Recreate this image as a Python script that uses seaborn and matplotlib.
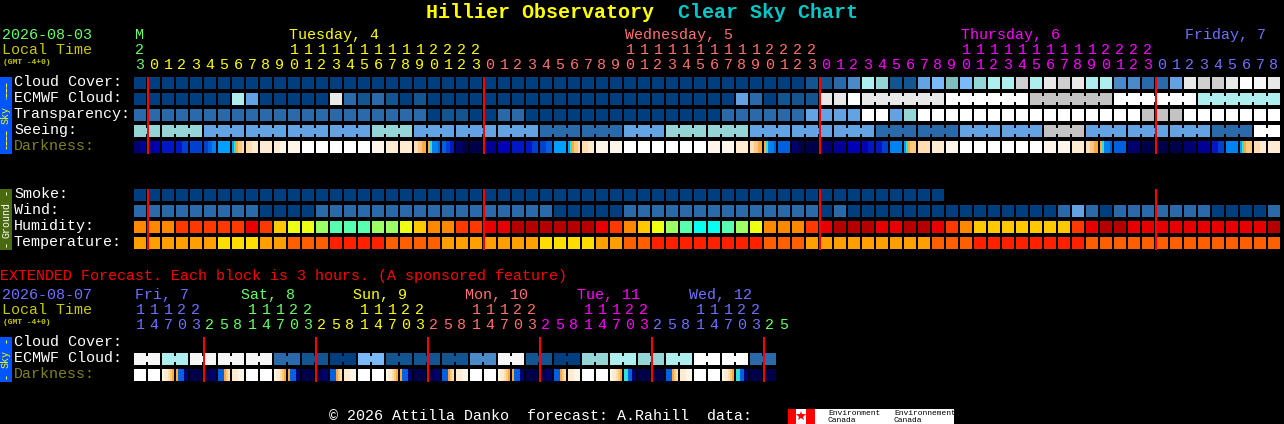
import numpy as np
import seaborn as sns
import matplotlib.pyplot as plt
from matplotlib.colors import ListedColormap
from matplotlib.patches import Rectangle

WIDTH, HEIGHT = 1284, 424
MONO = 'Liberation Mono'

SKY_COLORS = ['#003F7F', '#135591', '#2A6AAA', '#4A8AC9', '#63A3E3', '#7ABAFA', '#7FBFBF',
              '#95D5D5', '#AEEEEE', '#C3C3C3', '#CFCFCF', '#E8E8E8', '#F6F6F6', '#FFFFFF']
DARK_COLORS = ['#00004A', '#000070', '#000095', '#0000B4', '#0018C4', '#0040D0', '#0060E0', '#0082F0',
               '#00A0FF', '#30E0D8', '#FFA840', '#FFC880', '#FFDDB0', '#FFEBD0', '#FFF6EA', '#FFFFFF']
HUMID_COLORS = ['#B40000', '#E80000', '#FF3800', '#FF8800', '#FFC800', '#EEFF14', '#9CFF64', '#58FFAE', '#08FFF0']
TEMP_COLORS = ['#FF2000', '#FF5F00', '#FFA000', '#FFDD00']

GREEN, YELLOW, SALMON, MAGENTA, PERIWINKLE = '#66FF66', '#FFFF00', '#FF7070', '#FF00FF', '#7070FF'
OLIVE = '#C8C800'

cloud_cover = [0] * 48 + [1, 1, 2, 3, 8, 7, 1, 1, 4, 5, 6, 5, 7, 8, 8, 10, 8, 11, 10, 11, 8, 8, 3, 3, 2, 2, 4, 11, 10, 10, 11, 13, 12, 11]
ecmwf_cloud = [0, 0, 0, 0, 0, 0, 0, 8, 4, 0, 0, 0, 0, 0, 11, 2, 1, 2, 1, 0, 1] + [0] * 22 + [4, 2, 0, 1, 1, 1, 11, 11, 13] \
    + [11] * 6 + [13] * 6 + [9] * 6 + [13] * 6 + [8] * 6
ecmwf_groups = [1] * 52 + [6] * 5
transparency = [2] * 21 + [0, 1, 1, 0, 0, 2, 2] + [0] * 14 + [2] * 6 + [4, 4, 4, 4, 13, 13, 4, 7] + [13] * 16 + [9, 9, 9] + [13] * 7
seeing = [7] * 5 + [4] * 12 + [7] * 3 + [4] * 9 + [2] * 6 + [4] * 3 + [7] * 6 + [4] * 9 + [2] * 6 + [4] * 6 + [9] * 3 + [4] * 9 + [2] * 3 + [13] * 2
seeing_groups = [2] + [3] * 26 + [2]
darkness = ['12', '23', '4', '45', '5', '567', '8', '89abbc', 'cd', 'd', 'de', 'e', 'f', 'f', 'f', 'f', 'f', 'e', 'd', 'd',
            'cba', 'a97776', '654', '10', '0', '2', '3', '4', '45', '56', '8', '89abbc', 'cd', 'e', 'e', 'f', 'f', 'f', 'f', 'f',
            'f', 'e', 'e', 'd', 'cba', 'a97776', '6', '10', '0', '1', '2', '3', '34', '45', '7', '89abbb', 'c', 'd', 'e', 'f',
            'f', 'f', 'f', 'f', 'f', 'e', 'e', 'd', 'cba', 'a97776', '6', '1', '0', '0', '0', '1', '2', '45', '7', '89abbb', 'cd', 'd']

smoke = [0] * 58 + [np.nan] * 24
wind = [2] * 9 + [0] * 4 + [2] * 17 + [0] * 5 + [2] * 14 + [0, 2, 0] + [0] * 14 + [2, 4, 2, 0, 2, 2, 2, 2, 2, 2, 2, 0, 0, 0, 0, 2]
humidity = [3, 3, 3, 2, 2, 2, 2, 2, 1, 2, 4, 5, 5, 6, 7, 7, 7, 6, 6, 5, 4, 3, 3, 2, 2, 1, 1, 0, 0, 0, 0, 0, 0, 1, 2, 3, 4, 5, 6, 7, 8, 8,
            7, 6, 5, 3, 3, 3, 2, 1, 0, 0, 0, 1, 1, 0, 0, 1, 2, 3, 4, 4, 4, 4, 4, 4, 4, 2, 1, 0, 0, 1, 1, 1, 1, 1, 1, 1, 1, 1, 1, 0]
temperature = [2] * 6 + [3] * 3 + [2] * 2 + [1] * 3 + [0] * 4 + [1] * 4 + [2] * 7 + [3] * 4 + [2] * 2 + [1] * 2 + [0] * 8 + [1] * 3 \
    + [2] * 9 + [1] * 3 + [0] * 8 + [1] * 14

hours = [23] + list(range(24)) * 3 + list(range(9))
hour_colors = [GREEN] + [YELLOW] * 24 + [SALMON] * 24 + [MAGENTA] * 24 + [PERIWINKLE] * 9
day_labels = [('M', 135, GREEN), ('Tuesday, 4', 289, YELLOW), ('Wednesday, 5', 625, SALMON),
              ('Thursday, 6', 961, MAGENTA), ('Friday, 7', 1185, PERIWINKLE)]
midnights = [147, 483, 819, 1155]

ext_ecmwf = [12, 12, 8, 8, 12, 12, 12, 12, 12, 12, 2, 2, 1, 1, 0, 0, 5, 5, 1, 1, 1, 1, 1, 1, 3, 3, 12, 12, 1, 1, 0, 0,
             7, 7, 8, 8, 7, 7, 8, 8, 13, 13, 13, 13, 2, 2]
ext_groups = [2] * 23
ext_darkness = ['f', 'f', 'eddcba', 'a66611', '0', '01', '666abc', 'de', 'f', 'f', 'eddcba', 'a66611', '0', '01', '666abc', 'de',
                'f', 'f', 'eddcba', 'a66611', '0', '01', '666abc', 'de', 'f', 'f', 'eddcba', 'a66611', '0', '01', '666abc', 'de',
                'f', 'f', 'eddcba', '996611', '0', '0', '666abc', 'de', 'f', 'f', 'eddcba', '996611', '0', '0']
ext_hours = [11, 14, 17, 20, 23, 2, 5, 8] * 5 + [11, 14, 17, 20, 23, 2, 5]
ext_colors = [PERIWINKLE] * 5 + [GREEN] * 8 + [YELLOW] * 8 + [SALMON] * 8 + [MAGENTA] * 8 + [PERIWINKLE] * 8 + [GREEN] * 2
ext_days = [('Fri, 7', 135, PERIWINKLE), ('Sat, 8', 241, GREEN), ('Sun, 9', 353, YELLOW),
            ('Mon, 10', 465, SALMON), ('Tue, 11', 577, MAGENTA), ('Wed, 12', 689, PERIWINKLE)]
ext_midnights = [203, 315, 427, 539, 651, 763]

fig = plt.figure(figsize=(WIDTH / 100, HEIGHT / 100), dpi=100, facecolor='black')


def strip(values, top, colors, groups=None):
    # one row of blocks, 14 px per block of which the last 2 px are the gap
    n = len(values)
    left = 134
    ax = fig.add_axes([left / WIDTH, 1 - (top + 12) / HEIGHT, 14 * n / WIDTH, 12 / HEIGHT])
    data = np.array(values, dtype=float).reshape(1, -1)
    sns.heatmap(data, ax=ax, cmap=ListedColormap(colors), vmin=-0.5, vmax=len(colors) - 0.5,
                cbar=False, xticklabels=False, yticklabels=False)
    ax.set_facecolor('black')
    ends = np.cumsum(groups) if groups is not None else np.arange(1, n + 1)
    for i in range(1, n + 1):
        x0, x1 = i - 2 / 14, i
        if i in ends:
            ax.axvspan(x0, x1, color='black', lw=0, antialiased=False)
        else:
            ax.axvspan(x0, x1, ymin=0.75, ymax=1, color='black', lw=0, antialiased=False)
            ax.axvspan(x0, x1, ymin=0, ymax=0.25, color='black', lw=0, antialiased=False)
    return ax


def dark_strip(codes, top):
    # twilight blocks change colour inside the block, so each block is cut in 2 px slices
    n = len(codes)
    ax = fig.add_axes([134 / WIDTH, 1 - (top + 12) / HEIGHT, 14 * n / WIDTH, 12 / HEIGHT])
    cells = []
    for code in codes:
        levels = [int(c, 16) for c in code]
        cells += list(np.repeat(levels, 6 // len(levels) + (6 % len(levels) > 0))[:6]) + [np.nan]
    sns.heatmap(np.array(cells, dtype=float).reshape(1, -1), ax=ax, cmap=ListedColormap(DARK_COLORS),
                vmin=-0.5, vmax=15.5, cbar=False, xticklabels=False, yticklabels=False)
    ax.set_facecolor('black')


strip(cloud_cover, 77, SKY_COLORS)
strip(ecmwf_cloud, 93, SKY_COLORS, ecmwf_groups)
strip(transparency, 109, SKY_COLORS)
strip(seeing, 125, SKY_COLORS, seeing_groups)
dark_strip(darkness, 141)
strip(smoke, 189, SKY_COLORS)
strip(wind, 205, SKY_COLORS)
strip(humidity, 221, HUMID_COLORS)
strip(temperature, 237, TEMP_COLORS)
strip(ext_ecmwf, 353, SKY_COLORS, ext_groups)
dark_strip(ext_darkness, 369)

# everything else sits on one transparent axes measured in pixels
canvas = fig.add_axes([0, 0, 1, 1], zorder=5)
canvas.set_xlim(0, WIDTH)
canvas.set_ylim(HEIGHT, 0)
canvas.axis('off')
canvas.patch.set_alpha(0)


def label(x, y, s, color='white', size=15, va='baseline', **kw):
    # y is the text baseline in pixels from the top
    canvas.text(x, y, s, color=color, fontsize=size * 0.72, family=MONO, va=va, **kw)


def box(x, y, w, h, color):
    canvas.add_patch(Rectangle((x, y), w, h, facecolor=color, lw=0, antialiased=False, snap=False))


label(426, 18, 'Hillier Observatory', YELLOW, 20, fontweight='bold')
label(678, 18, 'Clear Sky Chart', '#00C8C8', 20, fontweight='bold')

label(2, 39, '2026-08-03', GREEN)
label(2, 54, 'Local Time', OLIVE)
label(3, 64, '(GMT -4+0)', OLIVE, 8, fontweight='bold')
for text, x, color in day_labels:
    label(x, 39, text, color)
for i, (hour, color) in enumerate(zip(hours, hour_colors)):
    x = 140 + 14 * i
    if hour >= 10:
        label(x, 54, str(hour // 10), color, ha='center')
    label(x, 69, str(hour % 10), color, ha='center')

for y, text, color in [(86, 'Cloud Cover:', 'white'), (102, 'ECMWF Cloud:', 'white'), (118, 'Transparency:', 'white'),
                       (134, 'Seeing:', 'white'), (150, 'Darkness:', '#808020'), (198, 'Smoke:', 'white'),
                       (214, 'Wind:', 'white'), (230, 'Humidity:', 'white'), (246, 'Temperature:', 'white'),
                       (346, 'Cloud Cover:', 'white'), (362, 'ECMWF Cloud:', 'white'), (378, 'Darkness:', '#808020')]:
    label(14, y, text, color)

# side bars: name in the middle, dashes above and below
for top, bottom, fill, text, color, dashes in [(77, 154, '#0055FF', 'Sky', YELLOW, [(83, 99), (131, 149)]),
                                               (189, 250, '#4A6A10', 'Ground', 'white', [(192, 195), (244, 247)]),
                                               (337, 382, '#0055FF', 'Sky', YELLOW, [(340, 343), (376, 379)])]:
    box(0, top, 12, bottom - top, fill)
    label(6, (top + bottom) / 2, text, color, 10, va='center', rotation=90, ha='center')
    for y0, y1 in dashes:
        canvas.vlines(6, y0, y1, color=color, lw=0.72, linestyles=(0, (4, 1)) if y1 - y0 > 5 else 'solid')

for x in midnights:
    box(x, 77, 2, 77, '#FF0000')
    box(x, 189, 2, 61, '#FF0000')
for x in ext_midnights:
    box(x, 337, 2, 45, '#FF0000')

label(0, 280, 'EXTENDED Forecast. Each block is 3 hours. (A sponsored feature)', '#FF0000')
label(2, 299, '2026-08-07', PERIWINKLE)
label(2, 314, 'Local Time', OLIVE)
label(3, 324, '(GMT -4+0)', OLIVE, 8, fontweight='bold')
for text, x, color in ext_days:
    label(x, 299, text, color)
for i, (hour, color) in enumerate(zip(ext_hours, ext_colors)):
    x = 140 + 14 * i
    if hour >= 10:
        label(x, 314, str(hour // 10), color, ha='center')
    label(x, 329, str(hour % 10), color, ha='center')

label(329, 420, '© 2026 Attilla Danko  forecast: A.Rahill  data:')
box(788, 409, 8, 15, '#FF0000')
box(796, 409, 10, 15, 'white')
box(806, 409, 9, 15, '#FF0000')
canvas.plot([801], [416], marker='*', color='#FF0000', markersize=7, mew=0)
box(815, 409, 139, 15, 'white')
for x, top_word, bottom_word in [(828, 'Environment', 'Canada'), (894, 'Environnement', 'Canada')]:
    label(x, 415, top_word, 'black', 8)
    label(x, 422, bottom_word, 'black', 8)

fig.savefig('out.png', dpi=100, facecolor='black')
